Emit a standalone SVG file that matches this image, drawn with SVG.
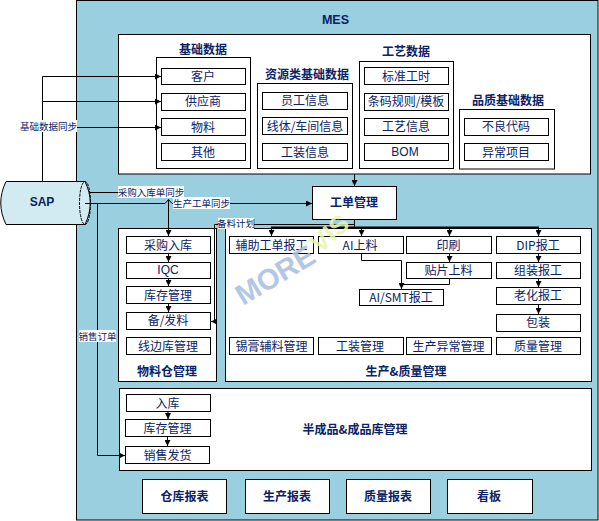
<svg xmlns="http://www.w3.org/2000/svg" width="599" height="521" viewBox="0 0 599 521">
<style>
text{font-family:"Noto Sans CJK SC","Liberation Sans",sans-serif;fill:#0a2266;text-anchor:middle}
.b{fill:#fff;stroke:#000;stroke-width:1}
.t{font-size:12px}
.h{font-size:12px;font-weight:700}
.s{font-size:9.500px}
.w{fill:#fff;stroke:none}
.c{fill:none;stroke:#000;stroke-width:1}
.lat{font-family:"Liberation Sans",sans-serif}
</style>
<defs><marker id="a" markerWidth="7" markerHeight="6" refX="6" refY="3" orient="auto" markerUnits="userSpaceOnUse"><path d="M0 0L6 3L0 6Z" fill="#000"/></marker></defs>
<rect x="76.500" y="0.500" width="521.500" height="519.500" fill="#9acfdf" stroke="#000"/>
<text class="lat" x="335.500" y="24" style="font-size:12.500px;font-weight:700">MES</text>
<g id="top"><rect class="b" x="118.500" y="34.500" width="472" height="139.500"/></g>
<g id="g1"><rect class="b" x="156.500" y="57.500" width="94" height="111"/><text class="h" x="203" y="54">基础数据</text>
<g id="n-kehu"><rect class="b" x="161.500" y="68.500" width="84" height="16"/><text class="t" x="203" y="81">客户</text></g>
<g id="n-gys"><rect class="b" x="161.500" y="93.500" width="84" height="17"/><text class="t" x="203" y="106">供应商</text></g>
<g id="n-wl"><rect class="b" x="161.500" y="118.500" width="84" height="17"/><text class="t" x="203" y="131.500">物料</text></g>
<g id="n-qt"><rect class="b" x="161.500" y="143.500" width="84" height="17"/><text class="t" x="203" y="157">其他</text></g></g>
<g id="g2"><rect class="b" x="257.500" y="83.500" width="95" height="85"/><text class="h" x="307" y="79">资源类基础数据</text>
<g id="n-yg"><rect class="b" x="262.500" y="92.500" width="85" height="17"/><text class="t" x="305" y="105">员工信息</text></g>
<g id="n-xt"><rect class="b" x="262.500" y="117.500" width="85" height="17"/><text class="t" x="305" y="130.500">线体/车间信息</text></g>
<g id="n-gz"><rect class="b" x="262.500" y="143.500" width="85" height="17"/><text class="t" x="305" y="157">工装信息</text></g></g>
<g id="g3"><rect class="b" x="359.500" y="61.500" width="94" height="107"/><text class="h" x="406" y="56">工艺数据</text>
<g id="n-bz"><rect class="b" x="364.500" y="67.500" width="84" height="17"/><text class="t" x="406" y="81">标准工时</text></g>
<g id="n-tm"><rect class="b" x="364.500" y="93.500" width="84" height="17"/><text class="t" x="406" y="106">条码规则/模板</text></g>
<g id="n-gy"><rect class="b" x="364.500" y="118.500" width="84" height="17"/><text class="t" x="406" y="131">工艺信息</text></g>
<g id="n-bom"><rect class="b" x="364.500" y="143.500" width="84" height="17"/><text class="t lat" x="405" y="155.500">BOM</text></g></g>
<g id="g4"><rect class="b" x="459.500" y="109.500" width="95" height="59.500"/><text class="h" x="508" y="105">品质基础数据</text>
<g id="n-bl"><rect class="b" x="464.500" y="118.500" width="84" height="17"/><text class="t" x="506" y="131">不良代码</text></g>
<g id="n-yc"><rect class="b" x="464.500" y="143.500" width="84" height="17"/><text class="t" x="506" y="157">异常项目</text></g></g>
<g id="sap"><path d="M6 181.500H85C92 196 92 210 85 224.500H6C-1 210 -1 196 6 181.500Z" fill="#d2eaf1" stroke="#000"/><ellipse cx="85" cy="203" rx="5.500" ry="21.500" fill="none" stroke="#000" stroke-dasharray="3 1"/><text class="lat" x="42" y="206" style="font-size:12px;font-weight:700">SAP</text></g>
<g id="n-gd"><rect class="b" x="312.500" y="186.500" width="84" height="33"/><text class="h" x="354" y="207">工单管理</text></g>
<g id="wh"><rect class="b" x="118.500" y="228.500" width="98" height="153"/><text class="h" x="167" y="375.500">物料仓管理</text>
<g id="n-cg"><rect class="b" x="126.500" y="236.500" width="84" height="17"/><text class="t" x="168" y="250">采购入库</text></g>
<g id="n-iqc"><rect class="b" x="126.500" y="262.500" width="84" height="16"/><text class="t lat" x="168" y="274">IQC</text></g>
<g id="n-kc"><rect class="b" x="126.500" y="286.500" width="84" height="17"/><text class="t" x="168" y="299.500">库存管理</text></g>
<g id="n-bf"><rect class="b" x="126.500" y="312.500" width="84" height="17"/><text class="t" x="168" y="325">备/发料</text></g>
<g id="n-xb"><rect class="b" x="126.500" y="337.500" width="84" height="17"/><text class="t" x="168" y="351">线边库管理</text></g></g>
<g id="prod"><rect class="b" x="225.500" y="228.500" width="366" height="153"/><text class="h" x="406" y="375.500">生产&amp;质量管理</text>
<g id="n-fz"><rect class="b" x="229.500" y="236.500" width="84" height="17"/><text class="t" x="271.500" y="250">辅助工单报工</text></g>
<g id="n-ai"><rect class="b" x="318.500" y="236.500" width="85" height="17"/><text class="t" x="360" y="250">AI上料</text></g>
<g id="n-ys"><rect class="b" x="406.500" y="236.500" width="85" height="17"/><text class="t" x="448.500" y="250">印刷</text></g>
<g id="n-dip"><rect class="b" x="496.500" y="236.500" width="84" height="17"/><text class="t" x="538" y="250">DIP报工</text></g>
<g id="n-tp"><rect class="b" x="406.500" y="262.500" width="85" height="16"/><text class="t" x="448.500" y="275">贴片上料</text></g>
<g id="n-zz"><rect class="b" x="496.500" y="262.500" width="84" height="16"/><text class="t" x="538" y="275">组装报工</text></g>
<g id="n-smt"><rect class="b" x="359.500" y="289.500" width="84" height="16"/><text class="t" x="401" y="302">AI/SMT报工</text></g>
<g id="n-lh"><rect class="b" x="496.500" y="287.500" width="84" height="17"/><text class="t" x="538" y="300">老化报工</text></g>
<g id="n-bzh"><rect class="b" x="496.500" y="314.500" width="84" height="17"/><text class="t" x="538" y="327">包装</text></g>
<g id="n-xg"><rect class="b" x="229.500" y="337.500" width="84" height="17"/><text class="t" x="271.500" y="351">锡膏辅料管理</text></g>
<g id="n-gzg"><rect class="b" x="318.500" y="337.500" width="85" height="17"/><text class="t" x="360" y="351">工装管理</text></g>
<g id="n-yc2"><rect class="b" x="406.500" y="337.500" width="85" height="17"/><text class="t" x="448.500" y="351">生产异常管理</text></g>
<g id="n-zl"><rect class="b" x="496.500" y="337.500" width="84" height="17"/><text class="t" x="538" y="351">质量管理</text></g></g>
<g id="fin"><rect class="b" x="119.500" y="388.500" width="472" height="82"/><text class="h" x="355" y="434">半成品&amp;成品库管理</text>
<g id="n-rk"><rect class="b" x="126.500" y="394.500" width="84" height="17"/><text class="t" x="167.500" y="408">入库</text></g>
<g id="n-kc2"><rect class="b" x="125.500" y="419.500" width="85" height="17"/><text class="t" x="167.500" y="433">库存管理</text></g>
<g id="n-xs"><rect class="b" x="125.500" y="446.500" width="84" height="17"/><text class="t" x="167.500" y="460">销售发货</text></g></g>
<g id="r1"><rect class="b" x="142.500" y="479.500" width="84" height="34"/><text class="h" x="184.500" y="501">仓库报表</text></g>
<g id="r2"><rect class="b" x="245.500" y="479.500" width="84" height="34"/><text class="h" x="287" y="501">生产报表</text></g>
<g id="r3"><rect class="b" x="346.500" y="479.500" width="84" height="34"/><text class="h" x="388" y="501">质量报表</text></g>
<g id="r4"><rect class="b" x="447.500" y="479.500" width="85" height="34"/><text class="h" x="489" y="501">看板</text></g>
<g id="connectors">
<path class="c" d="M42.500 181V76.500H161" marker-end="url(#a)"/>
<path class="c" d="M42.500 101.500H161" marker-end="url(#a)"/>
<path class="c" d="M42.500 127.500H161" marker-end="url(#a)"/>
<path class="c" d="M354.500 174V186" marker-end="url(#a)"/>
<path class="c" d="M89 192.500H120"/>
<path class="c" d="M85 203.500H165L168.500 199.500L172 203.500H312" marker-end="url(#a)"/>
<path class="c" d="M168.500 199.500V236" marker-end="url(#a)"/>
<path class="c" d="M97.500 203.500V455.500H125" marker-end="url(#a)"/>
<path class="c" d="M168.500 253V262" marker-end="url(#a)"/>
<path class="c" d="M168.500 278V286" marker-end="url(#a)"/>
<path class="c" d="M168.500 303V312" marker-end="url(#a)"/>
<path class="c" d="M218 224.500H214.500V321.500H211" marker-end="url(#a)"/>
<path class="c" d="M254 224.500H354.500V219.500M354.500 224.500V227.500"/>
<path class="c" d="M271 227.500H539" style="stroke-width:2"/>
<path class="c" d="M271.500 227.500V236" marker-end="url(#a)"/>
<path class="c" d="M361.500 227.500V236" marker-end="url(#a)"/>
<path class="c" d="M449.500 227.500V236" marker-end="url(#a)"/>
<path class="c" d="M538.500 227.500V236" marker-end="url(#a)"/>
<path class="c" d="M449.500 253V262" marker-end="url(#a)"/>
<path class="c" d="M361.500 253V260.500H401.500V289" marker-end="url(#a)"/>
<path class="c" d="M449.500 278V284.500H401.500"/>
<path class="c" d="M538.500 253V262" marker-end="url(#a)"/>
<path class="c" d="M538.500 278V287" marker-end="url(#a)"/>
<path class="c" d="M538.500 304V314" marker-end="url(#a)"/>
<path class="c" d="M168 411V419" marker-end="url(#a)"/>
<path class="c" d="M167.500 436V446" marker-end="url(#a)"/>
</g>
<g id="labels">
<rect class="w" x="20" y="120" width="57" height="12"/><text class="s" x="48.500" y="129.500">基础数据同步</text>
<rect class="w" x="118" y="186" width="66" height="12"/><text class="s" x="151" y="195.500">采购入库单同步</text>
<rect class="w" x="173" y="197" width="57" height="12"/><text class="s" x="201.500" y="206.500">生产工单同步</text>
<rect class="w" x="218" y="218" width="36" height="11"/><text class="s" x="236" y="227">备料计划</text>
<rect class="w" x="79" y="330" width="37" height="12"/><text class="s" x="97.500" y="339.500">销售订单</text>
</g>
<g id="watermark">
<text class="lat" transform="translate(243 306) rotate(-31)" style="font-size:29px;font-weight:700;fill:#a9c0e2;fill-opacity:.9;text-anchor:start">MORE</text>
<text class="lat" transform="translate(320 254) rotate(-42)" style="font-size:26px;font-weight:700;fill:#e9f5ac;fill-opacity:.9;text-anchor:start">VIS</text>
</g>
</svg>
